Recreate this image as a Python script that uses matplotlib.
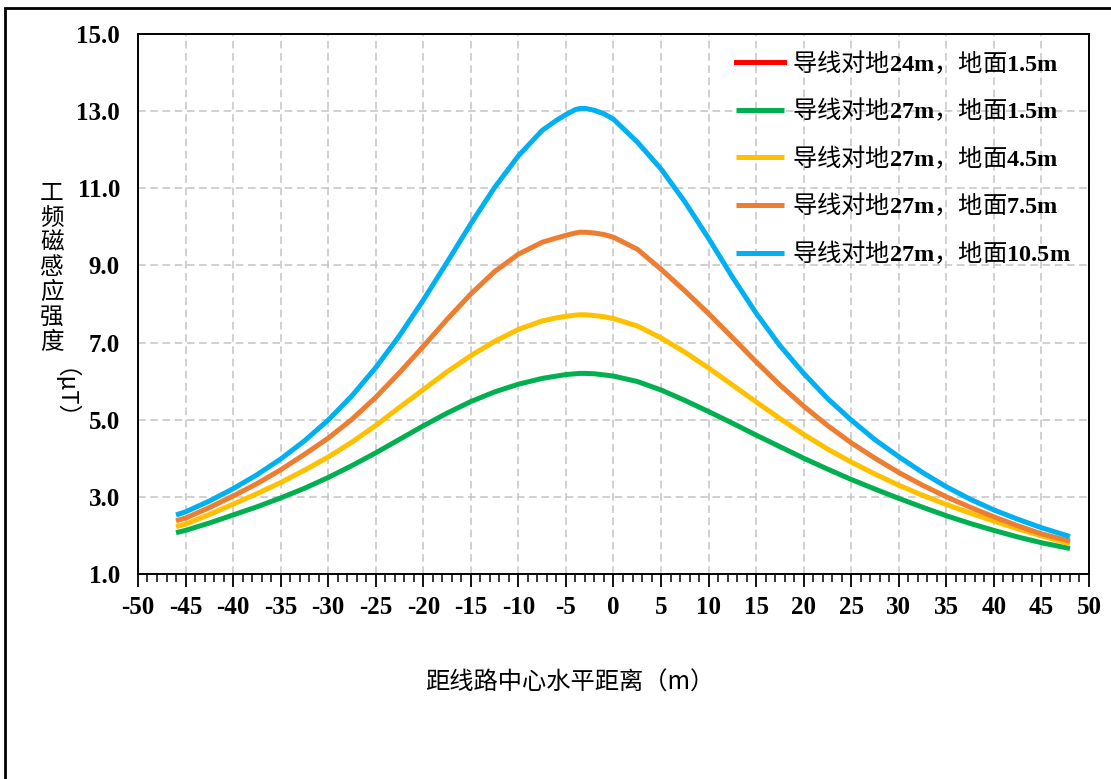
import numpy as np
import matplotlib
matplotlib.use('Agg')
import matplotlib.pyplot as plt
from matplotlib.patches import Rectangle
from matplotlib.font_manager import FontProperties

plt.rcParams['font.family'] = ['Noto Sans CJK SC', 'DejaVu Sans']
plt.rcParams['mathtext.fontset'] = 'custom'
plt.rcParams['mathtext.rm'] = 'Liberation Serif'
plt.rcParams['mathtext.bf'] = 'Liberation Serif:bold'
plt.rcParams['axes.unicode_minus'] = False

# Data (distance from line centre, m)
dist = [-46, -45, -42.5, -40, -37.5, -35, -32.5, -30, -27.5, -25, -22.5, -20, -17.5, -15,
        -12.5, -10, -7.5, -6, -5, -4, -3.5, -3, -2, -1, 0, 2.5, 5, 7.5, 10, 12.5, 15, 17.5,
        20, 22.5, 25, 27.5, 30, 32.5, 35, 37.5, 40, 42.5, 45, 48]

b_24_15 = []  # not visible in the chart, only in the legend
b_27_15 = [2.07, 2.13, 2.32, 2.53, 2.74, 2.97, 3.22, 3.50, 3.81, 4.14, 4.49, 4.84, 5.17, 5.47,
           5.72, 5.92, 6.07, 6.13, 6.17, 6.19, 6.20, 6.20, 6.19, 6.16, 6.13, 5.99, 5.77, 5.50,
           5.21, 4.91, 4.60, 4.30, 4.00, 3.72, 3.45, 3.20, 2.96, 2.73, 2.51, 2.31, 2.13, 1.96,
           1.81, 1.66]
b_27_45 = [2.23, 2.29, 2.54, 2.81, 3.08, 3.37, 3.69, 4.03, 4.42, 4.85, 5.32, 5.78, 6.24, 6.66,
           7.03, 7.34, 7.56, 7.64, 7.68, 7.71, 7.72, 7.72, 7.70, 7.67, 7.62, 7.43, 7.12, 6.75,
           6.34, 5.90, 5.46, 5.03, 4.62, 4.24, 3.90, 3.59, 3.30, 3.04, 2.80, 2.58, 2.37, 2.17,
           1.99, 1.78]
b_27_75 = [2.38, 2.45, 2.72, 3.02, 3.34, 3.70, 4.10, 4.52, 5.01, 5.58, 6.22, 6.90, 7.60, 8.26,
           8.84, 9.29, 9.60, 9.71, 9.78, 9.84, 9.86, 9.86, 9.84, 9.80, 9.73, 9.42, 8.90, 8.34,
           7.75, 7.13, 6.50, 5.90, 5.35, 4.85, 4.40, 4.00, 3.63, 3.30, 3.00, 2.73, 2.48, 2.25,
           2.04, 1.85]
b_27_105 = [2.53, 2.61, 2.89, 3.21, 3.57, 3.98, 4.45, 4.99, 5.62, 6.35, 7.18, 8.10, 9.08, 10.08,
            11.02, 11.84, 12.50, 12.76, 12.91, 13.04, 13.07, 13.07, 13.02, 12.93, 12.79, 12.20,
            11.50, 10.65, 9.70, 8.70, 7.76, 6.92, 6.20, 5.55, 4.99, 4.48, 4.04, 3.63, 3.26, 2.94,
            2.66, 2.42, 2.20, 1.97]

labels = [r'导线对地$\mathbf{24m}$，地面$\mathbf{1.5m}$',
          r'导线对地$\mathbf{27m}$，地面$\mathbf{1.5m}$',
          r'导线对地$\mathbf{27m}$，地面$\mathbf{4.5m}$',
          r'导线对地$\mathbf{27m}$，地面$\mathbf{7.5m}$',
          r'导线对地$\mathbf{27m}$，地面$\mathbf{10.5m}$']
colors = ['#FF0000', '#00B050', '#FFC000', '#ED7D31', '#00B0F0']

fig = plt.figure(figsize=(11.11, 7.79), dpi=100)
ax = fig.add_axes([0.1242, 0.2632, 0.856, 0.6932])

# red series has no visible data
ax.plot(b_24_15, b_24_15, color=colors[0], lw=3.6, label=labels[0])
for ys, c, lab in zip([b_27_15, b_27_45, b_27_75, b_27_105], colors[1:], labels[1:]):
    ax.plot(dist, ys, color=c, lw=3.6, label=lab, solid_capstyle='butt',
            solid_joinstyle='round')

ax.set_xlim(-50, 50)
ax.set_ylim(1, 15)
ax.set_xticks(np.arange(-50, 51, 5))
ax.set_xticks(np.arange(-50, 51, 1), minor=True)
ax.set_yticks(np.arange(1, 16, 2))
ax.set_yticklabels(['%.1f' % v for v in np.arange(1, 16, 2)])

tick_font = FontProperties(family='Liberation Serif', weight='bold', size=18)
for lab in ax.get_xticklabels() + ax.get_yticklabels():
    lab.set_fontproperties(tick_font)

ax.tick_params(axis='x', which='major', direction='out', length=9, width=1.3, pad=7)
ax.tick_params(axis='x', which='minor', direction='out', length=6, width=1.1)
ax.tick_params(axis='y', length=0, pad=13)

ax.grid(True, which='major', color='#C4C4C4', linestyle=(0, (5, 3)), linewidth=1.1)
ax.set_axisbelow(True)
for sp in ax.spines.values():
    sp.set_linewidth(1.4)
    sp.set_color('black')

leg = ax.legend(loc='upper left', bbox_to_anchor=(724 / 1111, 1 - 37 / 779),
                bbox_transform=fig.transFigure, frameon=False, fontsize=17.5,
                handlelength=1.95, handletextpad=0.35, labelspacing=0.82, borderpad=0)

# axis titles
fig.text(570 / 1111, 1 - 683 / 779, '距线路中心水平距离（m）', fontsize=17.5,
         ha='center', va='center')
fig.text(52 / 1111, 1 - 268 / 779, '工\n频\n磁\n感\n应\n强\n度', fontsize=17,
         ha='center', va='center', linespacing=1.1)
fig.text(52 / 1111, 1 - 406 / 779, '（μT）', fontsize=17, rotation=-90,
         ha='center', va='center')

# outer frame of the chart area
fig.patches.append(Rectangle((5 / 1111, -0.1), 1.2, 1.1 - 8 / 779, transform=fig.transFigure,
                             fill=False, edgecolor='black', linewidth=2, clip_on=False))

fig.savefig('out.png', dpi=100, facecolor='white')
